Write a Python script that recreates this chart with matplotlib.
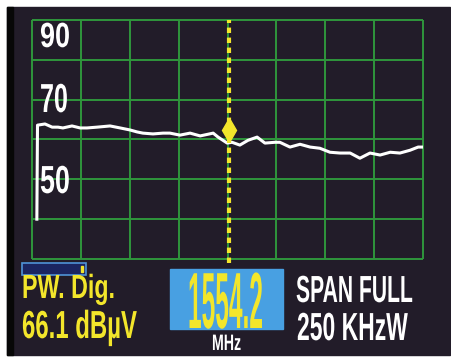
import numpy as np
import matplotlib
matplotlib.use("Agg")
import matplotlib.pyplot as plt
from matplotlib.patches import Rectangle
from matplotlib.patheffects import AbstractPathEffect
from matplotlib.transforms import Affine2D

# barrido completo de la banda satelite (MHz) y nivel medido (dBuV)
freq_mhz = [964, 966, 989, 1011, 1029, 1044, 1072, 1097, 1118, 1149, 1189,
            1220, 1250, 1272, 1290, 1321, 1352, 1373, 1404, 1435, 1466,
            1506, 1521, 1549, 1564, 1588, 1613, 1641, 1665, 1696, 1711,
            1742, 1773, 1804, 1834, 1865, 1896, 1927, 1957, 1988, 2019,
            2050, 2080, 2111, 2136, 2150]
nivel_db = [40.0, 63.6, 63.9, 63.1, 63.1, 62.9, 63.4, 62.9, 62.9, 63.1, 63.4,
            62.9, 62.4, 61.9, 61.6, 61.4, 61.6, 61.6, 61.1, 61.6, 60.9,
            61.6, 60.6, 59.1, 59.3, 58.6, 59.8, 60.6, 59.1, 59.3, 59.3,
            58.1, 58.8, 58.1, 57.8, 56.8, 56.6, 56.6, 55.3, 56.6, 56.1,
            56.8, 56.6, 57.3, 58.1, 58.1]

marcador_mhz = 1554.2
marcador_db = 62.4
potencia = 66.1
escala_y = ["90", "70", "50"]

f_ini, f_fin = 950, 2150
ref_max, ref_min = 90, 30

AMARILLO = "#f3e62b"
VERDE = "#2f963c"
FONDO = "#221c29"
W, H = 452, 361


class Estirar(AbstractPathEffect):
    """Escala los glifos respecto al origen de la linea base."""

    def __init__(self, sx, sy):
        super().__init__()
        self.sx, self.sy = sx, sy

    def draw_path(self, renderer, gc, tpath, affine, rgbFace=None):
        renderer.draw_path(gc, tpath, Affine2D().scale(self.sx, self.sy) + affine, rgbFace)


fig = plt.figure(figsize=(W / 100, H / 100), dpi=100, facecolor="white")

# fondo de la pantalla
fondo = fig.add_axes([0, 0, 1, 1])
fondo.set_xlim(0, W)
fondo.set_ylim(H, 0)
fondo.axis("off")
fondo.add_patch(Rectangle((7, 7), 443, 348, color=FONDO))
fondo.add_patch(Rectangle((7, 7), 6, 348, color="#070707"))

# reticula del analizador
x0, x1, y0, y1 = 32.3, 422.7, 20, 259
ax = fig.add_axes([x0 / W, (H - y1) / H, (x1 - x0) / W, (y1 - y0) / H])
ax.set_xlim(f_ini, f_fin)
ax.set_ylim(ref_min, ref_max)
ax.axis("off")
ax.patch.set_alpha(0)
ax.vlines(np.linspace(f_ini, f_fin, 9), ref_min, ref_max, color=VERDE, lw=1.4, clip_on=False)
ax.hlines(np.arange(ref_min, ref_max + 1, 10), f_ini, f_fin, color=VERDE, lw=1.4, clip_on=False)

ax.plot(freq_mhz, nivel_db, color="white", lw=2.2, solid_joinstyle="round")
ax.vlines(marcador_mhz, ref_min - 1, ref_max, color=AMARILLO, lw=3,
          linestyles=[(0, (1.3, 1.1))], clip_on=False)
ax.plot(marcador_mhz, marcador_db, marker="d", ms=12, color=AMARILLO, mec=AMARILLO)

# capa de textos y recuadros
top = fig.add_axes([0, 0, 1, 1])
top.set_xlim(0, W)
top.set_ylim(H, 0)
top.axis("off")
top.patch.set_alpha(0)

top.add_patch(Rectangle((22, 263), 64, 12, facecolor="#1b2560", edgecolor="#4f93d6", lw=1.2))
top.add_patch(Rectangle((81, 266), 2, 6, color=AMARILLO))
top.add_patch(Rectangle((170, 269), 113, 60, color="#48a0e2"))

renderer = fig.canvas.get_renderer()


def rotulo(x, base, s, color, ancho, alto, size=20):
    t = top.text(x, base, s, color=color, fontsize=size, fontweight="bold",
                 family=["Liberation Sans", "DejaVu Sans"], ha="left", va="baseline")
    bb = t.get_window_extent(renderer)
    sx = ancho / bb.width
    sy = alto / (0.716 * size * 100 / 72)
    t.set_path_effects([Estirar(sx, sy)])
    return t


rotulo(40, 47, escala_y[0], "white", 30, 25)
rotulo(40, 112, escala_y[1], "white", 28, 29)
rotulo(40, 193, escala_y[2], "white", 30, 28)

rotulo(22, 298, "PW. Dig.", AMARILLO, 93, 24)
rotulo(22, 338, f"{potencia:.1f} dBµV", AMARILLO, 115, 28)
rotulo(188, 328, f"{marcador_mhz:.1f}", AMARILLO, 75, 57)
rotulo(212, 350, "MHz", "white", 29, 16, size=12)
rotulo(296, 302, "SPAN FULL", "white", 117, 27)
rotulo(297, 340, "250 KHzW", "white", 111, 28)

fig.savefig("out.png", dpi=100, facecolor="white")
